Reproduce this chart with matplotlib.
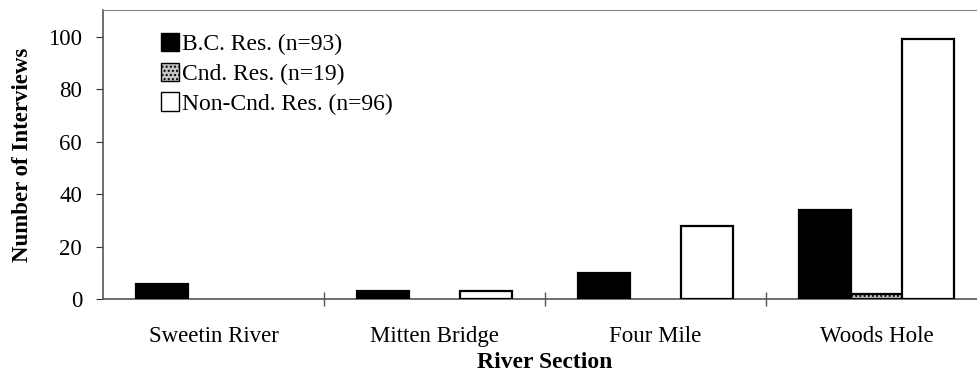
import matplotlib
matplotlib.use("Agg")
import matplotlib.pyplot as plt
import numpy as np
from matplotlib.patches import Patch

sections = ["Sweetin River", "Mitten Bridge", "Four Mile", "Woods Hole"]
series_labels = ["B.C. Res. (n=93)", "Cnd. Res. (n=19)", "Non-Cnd. Res. (n=96)"]
bc_res = [6, 3, 10, 34]
cnd_res = [0, 0, 0, 2]
noncnd_res = [0, 3, 28, 99]
y_ticks = [0, 20, 40, 60, 80, 100]

plt.rcParams['font.family'] = ['Liberation Serif', 'DejaVu Serif']

fig = plt.figure(figsize=(9.77, 3.72), dpi=100)
ax = fig.add_axes([103/977, 1 - 299.3/372, 884/977, 110*2.626/372])

x = np.arange(len(sections))
w = 0.7/3
styles = [
    dict(facecolor="black", edgecolor="black"),
    dict(facecolor="#c4c4c4", edgecolor="black", hatch="...."),
    dict(facecolor="white", edgecolor="black"),
]
for i, (vals, st) in enumerate(zip([bc_res, cnd_res, noncnd_res], styles)):
    lws = [1.6 if v > 0 else 0 for v in vals]
    ax.bar(x + (i - 1)*w, vals, w, linewidth=lws, **st, zorder=3)

ax.set_xlim(-0.5, 3.5)
ax.set_ylim(0, 110)
ax.set_yticks(y_ticks)
ax.tick_params(axis='y', direction='out', length=5, pad=10, labelsize=16.5, width=0.8,
               colors='#333333', labelcolor='black')

ax.set_xticks([0.5, 1.5, 2.5])
ax.set_xticklabels([])
ax.set_xticks(x, minor=True)
ax.set_xticklabels(sections, minor=True, fontsize=16.5)
ax.tick_params(axis='x', which='major', direction='inout', length=10, width=1, colors='#555555')
ax.tick_params(axis='x', which='minor', length=0, pad=19)

for s in ['left', 'bottom']:
    ax.spines[s].set_color('#555555')
    ax.spines[s].set_linewidth(1.2)
ax.spines['top'].set_color('#888888')
ax.spines['top'].set_linestyle((0, (2, 1)))
ax.spines['top'].set_linewidth(0.8)
ax.spines['right'].set_visible(False)

ax.set_ylabel("Number of Interviews", fontsize=16.5, fontweight='bold', labelpad=11)
ax.set_xlabel("River Section", fontsize=17, fontweight='bold', labelpad=4)

handles = [Patch(facecolor=st['facecolor'], edgecolor='black', hatch=st.get('hatch'), linewidth=1) for st in styles]
ax.legend(handles, series_labels, loc='upper left', bbox_to_anchor=(0.055, 0.955),
          frameon=False, fontsize=17, handlelength=0.75, handleheight=0.8,
          handletextpad=0.15, labelspacing=0.32, borderaxespad=0)

fig.savefig("out.png", dpi=100)
